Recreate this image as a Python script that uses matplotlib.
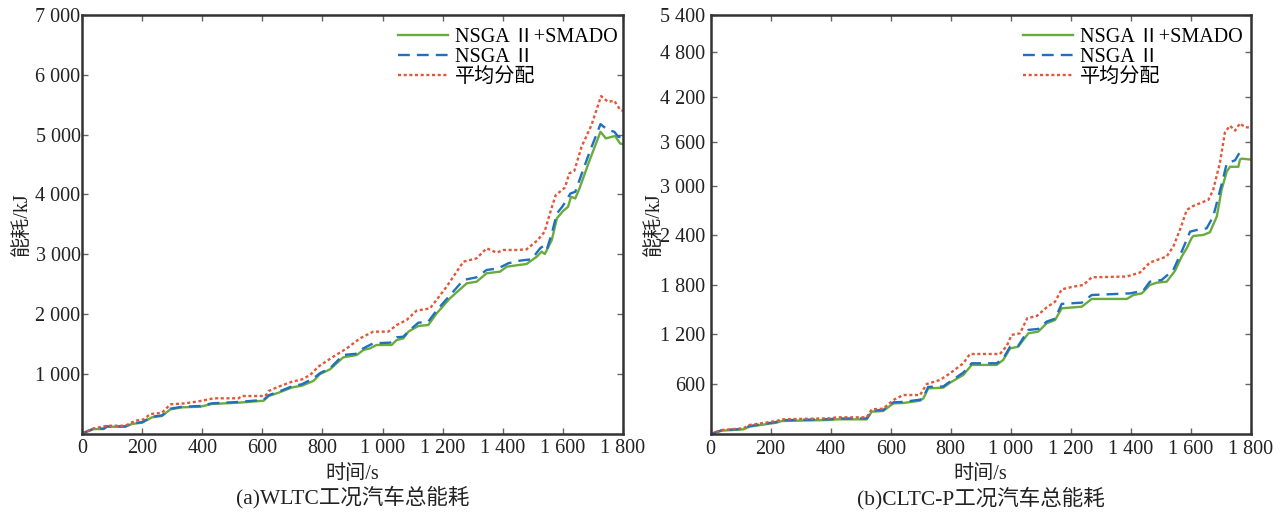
import numpy as np
import matplotlib
matplotlib.use("Agg")
import matplotlib.pyplot as plt
from matplotlib.ticker import FuncFormatter

plt.rcParams['font.family'] = ['Liberation Serif', 'Noto Sans CJK SC']
plt.rcParams['axes.unicode_minus'] = False

# (a) WLTC
wltc_t_smado = [0, 39, 72, 83, 144, 166, 200, 233, 266, 294, 333, 394, 432, 521, 604, 621, 654, 699, 732, 770,
                792, 825, 869, 914, 936, 958, 980, 1030, 1047, 1069, 1086, 1119, 1152, 1180, 1224, 1280, 1313,
                1346, 1391, 1413, 1479, 1513, 1529, 1540, 1563, 1580, 1600, 1617, 1627, 1641, 1655, 1689, 1725,
                1743, 1763, 1774, 1790, 1800]
wltc_e_smado = [0, 75, 75, 113, 113, 160, 181, 271, 293, 404, 438, 449, 494, 516, 549, 627, 683, 772, 800, 880,
                995, 1073, 1274, 1313, 1397, 1425, 1481, 1481, 1564, 1592, 1704, 1799, 1815, 2010, 2261, 2512, 2540,
                2680, 2708, 2791, 2836, 2958, 3042, 3003, 3237, 3600, 3720, 3792, 3960, 3932, 4099, 4573, 5047,
                4936, 4964, 4975, 4852, 4840]
wltc_t_nsga = [0, 39, 72, 83, 144, 166, 200, 233, 266, 294, 333, 394, 432, 521, 604, 621, 654, 699, 732, 770,
               792, 825, 869, 914, 936, 969, 1025, 1047, 1069, 1091, 1119, 1152, 1180, 1235, 1269, 1313, 1346,
               1385, 1418, 1457, 1496, 1524, 1535, 1546, 1563, 1580, 1600, 1625, 1641, 1655, 1689, 1725, 1750,
               1771, 1784, 1800]
wltc_e_nsga = [0, 82, 82, 120, 120, 168, 190, 282, 303, 415, 448, 460, 505, 528, 562, 640, 698, 790, 825, 923,
               1010, 1090, 1313, 1335, 1425, 1509, 1520, 1609, 1620, 1732, 1854, 1870, 2060, 2373, 2568, 2613, 2735,
               2763, 2847, 2892, 2914, 3098, 3137, 3070, 3349, 3680, 3809, 4015, 4043, 4238, 4712, 5175, 5075,
               5047, 4964, 4952]
wltc_t_avg = [0, 39, 83, 144, 177, 205, 227, 266, 294, 344, 394, 438, 521, 532, 610, 621, 654, 699, 732, 759,
              786, 836, 881, 925, 969, 1019, 1047, 1080, 1113, 1158, 1213, 1269, 1313, 1346, 1380, 1402, 1446,
              1479, 1515, 1539, 1560, 1576, 1607, 1621, 1638, 1662, 1695, 1727, 1750, 1771, 1791, 1800]
wltc_e_avg = [0, 86, 130, 130, 213, 236, 325, 347, 488, 505, 544, 589, 589, 627, 627, 711, 784, 867, 906, 979,
              1118, 1285, 1425, 1592, 1704, 1704, 1815, 1899, 2055, 2094, 2456, 2875, 2931, 3098, 3025, 3070, 3070,
              3081, 3230, 3374, 3737, 3987, 4116, 4350, 4395, 4796, 5159, 5644, 5549, 5566, 5410, 5399]

# (b) CLTC-P
cltc_t_smado = [0, 37, 109, 129, 220, 237, 398, 420, 520, 537, 575, 609, 642, 698, 709, 725, 775, 798, 842, 870,
                953, 975, 998, 1025, 1059, 1092, 1120, 1148, 1170, 1237, 1270, 1387, 1409, 1437, 1464, 1487, 1520,
                1548, 1570, 1587, 1603, 1609, 1642, 1664, 1687, 1703, 1720, 1731, 1759, 1764, 1770, 1800]
cltc_e_smado = [0, 40, 56, 88, 136, 156, 168, 176, 176, 268, 276, 368, 372, 400, 428, 548, 556, 616, 709, 830,
                830, 890, 1030, 1050, 1212, 1232, 1334, 1374, 1516, 1536, 1630, 1630, 1678, 1698, 1800, 1828, 1840,
                1973, 2144, 2245, 2367, 2392, 2404, 2437, 2627, 2951, 3191, 3258, 3258, 3356, 3369, 3356]
cltc_t_nsga = [0, 37, 109, 129, 220, 237, 398, 420, 520, 537, 575, 609, 642, 698, 709, 725, 775, 798, 842, 870,
               953, 975, 998, 1025, 1059, 1092, 1120, 1148, 1170, 1237, 1270, 1398, 1442, 1464, 1503, 1542, 1570,
               1598, 1620, 1653, 1675, 1707, 1720, 1748, 1764, 1775]
cltc_e_nsga = [0, 45, 62, 95, 145, 165, 178, 186, 186, 280, 288, 380, 385, 412, 440, 565, 570, 630, 737, 850,
               850, 905, 1050, 1060, 1253, 1265, 1354, 1390, 1570, 1585, 1678, 1698, 1731, 1840, 1860, 1981, 2204,
               2444, 2464, 2484, 2627, 3080, 3302, 3347, 3458, 3444]
cltc_t_avg = [0, 37, 109, 129, 220, 237, 398, 420, 520, 537, 575, 609, 642, 698, 720, 764, 798, 842, 864, 964,
              987, 1003, 1031, 1055, 1087, 1120, 1148, 1170, 1209, 1242, 1270, 1387, 1431, 1464, 1520, 1542, 1564,
              1587, 1609, 1659, 1675, 1698, 1714, 1731, 1748, 1764, 1781, 1800]
cltc_e_avg = [0, 48, 68, 108, 156, 176, 188, 200, 200, 296, 304, 408, 468, 468, 600, 648, 729, 850, 962, 962,
              1060, 1192, 1212, 1395, 1423, 1528, 1597, 1747, 1780, 1800, 1893, 1902, 1951, 2071, 2144, 2265, 2465,
              2707, 2756, 2829, 2951, 3324, 3725, 3815, 3748, 3846, 3793, 3793]

labels = ['NSGA Ⅱ+SMADO', 'NSGA Ⅱ', '平均分配']
captions = ['(a)WLTC工况汽车总能耗', '(b)CLTC-P工况汽车总能耗']

green = '#6aab3e'
blue = '#1f70be'
red = '#e2573a'
fs = 14.5

# the y axis of panel (b) is not evenly spaced in the source figure
b_tick_vals = np.array([0, 600, 1200, 1800, 2400, 3000, 3600, 4200, 4800, 5400])
b_tick_pos = np.array([0, 0.1193, 0.238, 0.3556, 0.4742, 0.5926, 0.6976, 0.8043, 0.9124, 1.0]) * 5400


def b_fwd(v):
    return np.interp(v, b_tick_vals, b_tick_pos)


def b_inv(p):
    return np.interp(p, b_tick_pos, b_tick_vals)


def thousands(v, pos):
    return f"{int(round(v)):,}".replace(",", " ")


fig = plt.figure(figsize=(12.87, 5.22), dpi=100)
ax1 = fig.add_axes([0.0637, 0.1695, 0.4204, 0.8017])
ax2 = fig.add_axes([0.5522, 0.1686, 0.4196, 0.8027])

ax1.plot(wltc_t_smado, wltc_e_smado, color=green, lw=1.7, label=labels[0])
ax1.plot(wltc_t_nsga, wltc_e_nsga, color=blue, lw=1.7, dashes=(5, 3), label=labels[1])
ax1.plot(wltc_t_avg, wltc_e_avg, color=red, lw=1.7, dashes=(1.3, 1.1), label=labels[2])

ax2.set_yscale('function', functions=(b_fwd, b_inv))
ax2.plot(cltc_t_smado, cltc_e_smado, color=green, lw=1.7, label=labels[0])
ax2.plot(cltc_t_nsga, cltc_e_nsga, color=blue, lw=1.7, dashes=(5, 3), label=labels[1])
ax2.plot(cltc_t_avg, cltc_e_avg, color=red, lw=1.7, dashes=(1.3, 1.1), label=labels[2])

ax1.set_ylim(0, 7000)
ax1.set_yticks(range(1000, 7001, 1000))
ax2.set_ylim(0, 5400)
ax2.set_yticks(range(600, 5401, 600))

for ax, cap, ypad, ylx, lx in [(ax1, captions[0], 1, -0.11, 0.584), (ax2, captions[1], 4, -0.105, 0.578)]:
    ax.set_xlim(0, 1800)
    ax.set_xticks(range(0, 1801, 200))
    ax.xaxis.set_major_formatter(FuncFormatter(thousands))
    ax.yaxis.set_major_formatter(FuncFormatter(thousands))
    ax.tick_params(direction='in', top=True, right=True, length=4, width=1, color='#666',
                   labelsize=fs, labelcolor='#222')
    ax.tick_params(axis='x', pad=4)
    ax.tick_params(axis='y', pad=ypad)
    for s in ax.spines.values():
        s.set_linewidth(1.8)
        s.set_color('#333')
    ax.set_xlabel('时间/s', fontsize=fs, color='#222', va='center')
    ax.xaxis.set_label_coords(0.5, -0.097)
    ax.set_ylabel('能耗/kJ', fontsize=fs, color='#222', va='center')
    ax.yaxis.set_label_coords(ylx, 0.5)
    ax.legend(loc='upper left', bbox_to_anchor=(lx, 0.97), frameon=False, fontsize=fs,
              handlelength=2.5, handletextpad=0.35, labelspacing=0.05, borderpad=0, borderaxespad=0)
    ax.text(0.5, -0.152, cap, transform=ax.transAxes, ha='center', va='center', fontsize=fs + 1,
            color='#222')

fig.savefig('out.png', dpi=100)
